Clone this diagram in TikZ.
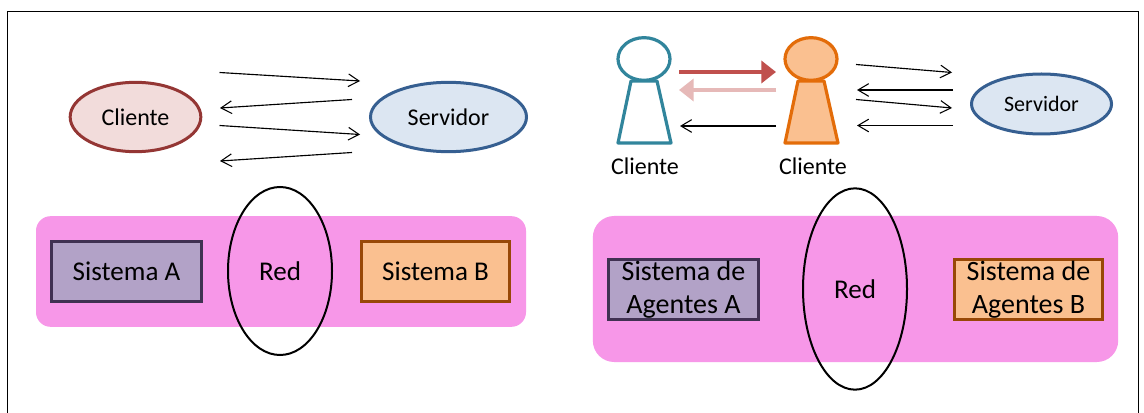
\documentclass[tikz,border=0pt]{standalone}
\usepackage{fontspec}
\setmainfont{Carlito}
\usetikzlibrary{arrows.meta,shapes.geometric}
\definecolor{pinkbg}{HTML}{F797E8}
\definecolor{cliD}{HTML}{943634}
\definecolor{cliF}{HTML}{F2DCDB}
\definecolor{srvD}{HTML}{365F91}
\definecolor{srvF}{HTML}{DCE6F2}
\definecolor{tealD}{HTML}{31859C}
\definecolor{oranD}{HTML}{E36C09}
\definecolor{oranF}{HTML}{FAC090}
\definecolor{purD}{HTML}{403152}
\definecolor{purF}{HTML}{B2A2C7}
\definecolor{brnD}{HTML}{984807}
\definecolor{redA}{HTML}{C0504D}
\definecolor{redB}{HTML}{E6B9B8}
\tikzset{
  x=0.75pt, y=-0.75pt,
  thin arrow/.style={draw=black, line width=0.85pt, -{Straight Barb[length=8pt,width=9.5pt,line width=0.8pt]}},
  fat arrow/.style={line width=3.4pt, -{Triangle[length=11pt,width=16.5pt]}},
  band/.style={rectangle, fill=pinkbg, inner sep=0pt},
  oval/.style={ellipse, draw, inner sep=0pt, line width=2.25pt, text=black},
  sysbox/.style={rectangle, draw, inner sep=0pt, line width=2.25pt, minimum width=112pt, minimum height=45pt, align=center},
  netoval/.style={ellipse, draw=black, inner sep=0pt, line width=1.5pt, minimum width=78pt},
  person/.style={line width=2.4pt, line join=round},
  lbl24/.style={font=\fontsize{18}{22}\selectfont},
  lbl27/.style={font=\fontsize{20.3}{25}\selectfont},
}
\begin{document}
\begin{tikzpicture}
\useasboundingbox (0,0) rectangle (1144,413);
\fill[white] (0,0) rectangle (1144,413);
% frame, open at the bottom
\coordinate (fa) at (7.5,413);
\coordinate (fb) at (7.5,11.5);
\coordinate (fc) at (1138.7,11.5);
\coordinate (fd) at (1138.7,413);
\draw[line width=0.9pt] (fa) -- (fb) -- (fc) -- (fd);

% left top
\node[oval, draw=cliD, fill=cliF, minimum width=98pt, minimum height=52pt, lbl24] (cliL) at (135.5,117) {Cliente};
\node[oval, draw=srvD, fill=srvF, minimum width=117pt, minimum height=52pt, lbl24] (srvL) at (448.5,117) {Servidor};
\foreach \n/\ax/\ay/\bx/\by in {a/219.5/72.5/360/81, b/352/99.5/220/108, c/219.5/125.5/360/134.5, d/352/152.5/220/161}{
  \coordinate (l\n s) at (\ax,\ay);
  \coordinate (l\n e) at (\bx,\by);
  \draw[thin arrow] (l\n s) -- (l\n e);
}

% left bottom
\node[band, rounded corners=11pt, minimum width=367.5pt, minimum height=83pt] (bandL) at (281,271.5) {};
\node[sysbox, draw=purD, fill=purF, lbl27] (sysA) at (126.5,271.5) {Sistema A};
\node[sysbox, draw=brnD, fill=oranF, lbl27, minimum width=111pt] (sysB) at (435.5,271.5) {Sistema B};
\node[netoval, minimum height=126pt, lbl27] (redL) at (280,271) {Red};

% right top
\node[ellipse, draw=tealD, fill=white, person, inner sep=0pt, minimum width=39pt, minimum height=32pt] (headA) at (644,59) {};
\node[ellipse, draw=oranD, fill=oranF, person, inner sep=0pt, minimum width=39pt, minimum height=32pt] (headB) at (811,59) {};
\draw[person, draw=tealD, fill=white] (631,81) -- (657,81) -- (671,143) -- (618,143) -- cycle;
\draw[person, draw=oranD, fill=oranF] (798,81) -- (824,81) -- (838,143) -- (785,143) -- cycle;
\node[lbl24] (txtA) at (645,166) {Cliente};
\node[lbl24] (txtB) at (813,166) {Cliente};
\coordinate (fa1) at (679,72);   \coordinate (fa2) at (776,72);
\coordinate (fb1) at (776,90);   \coordinate (fb2) at (679,90);
\coordinate (tn1) at (776,126);  \coordinate (tn2) at (680,126);
\draw[fat arrow, draw=redA] (fa1) -- (fa2);
\draw[fat arrow, draw=redB] (fb1) -- (fb2);
\draw[thin arrow] (tn1) -- (tn2);
\node[oval, draw=srvD, fill=srvF, minimum width=105pt, minimum height=45pt, font=\fontsize{16.5}{20}\selectfont] (srvR) at (1041.5,104) {Servidor};
\foreach \n/\ax/\ay/\bx/\by in {a/856/64.5/952/72.5, b/953/90/857/90, c/856/99.5/952/108, d/953/125.5/857/125.5}{
  \coordinate (r\n s) at (\ax,\ay);
  \coordinate (r\n e) at (\bx,\by);
  \draw[thin arrow] (r\n s) -- (r\n e);
}

% right bottom
\node[band, rounded corners=16pt, minimum width=394pt, minimum height=109.5pt] (bandR) at (855.5,289) {};
\node[sysbox, draw=purD, fill=purF, font=\fontsize{21}{24.7}\selectfont] (sysC) at (683.5,289.5) {Sistema de\\Agentes A};
\node[sysbox, draw=brnD, fill=oranF, minimum width=111pt, font=\fontsize{21}{24.7}\selectfont] (sysD) at (1028.5,289.5) {Sistema de\\Agentes B};
\node[netoval, minimum height=151pt, lbl27] (redR) at (855,289) {Red};
\end{tikzpicture}
\end{document}
